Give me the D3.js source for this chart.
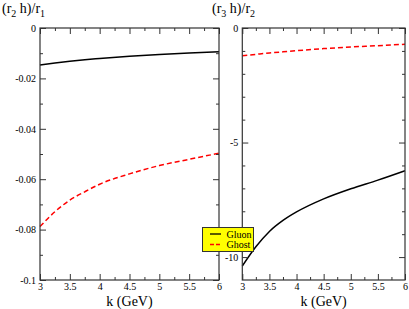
<!DOCTYPE html>
<html>
<head>
<meta charset="utf-8">
<script src="https://cdn.jsdelivr.net/npm/d3@7"></script>
<style>
  body { margin: 0; background: #fff; }
  text { font-family: "Liberation Serif", "Times New Roman", serif; }
</style>
</head>
<body>
<div id="chart-area"></div>
<script>
// momentum values (GeV) and the two ratios for gluon / ghost
var kVals = [3, 3.25, 3.5, 3.75, 4, 4.5, 5, 5.5, 6];
var gluonR2 = [-0.0147, -0.0139, -0.0132, -0.0126, -0.0121, -0.0112, -0.0105, -0.0099, -0.0094];
var ghostR2 = [-0.0788, -0.0729, -0.0683, -0.0650, -0.0620, -0.0579, -0.0546, -0.0521, -0.0497];
var gluonR3 = [-10.39, -9.55, -8.88, -8.40, -8.03, -7.46, -7.02, -6.64, -6.23];
var ghostR3 = [-1.21, -1.15, -1.09, -1.04, -0.99, -0.90, -0.83, -0.77, -0.71];

var xTicks = [3, 3.5, 4, 4.5, 5, 5.5, 6];
var xMinor = [3.25, 3.75, 4.25, 4.75, 5.25, 5.75];
var yTicksR2 = [0, -0.02, -0.04, -0.06, -0.08, -0.1];
var yMinorR2 = [-0.01, -0.03, -0.05, -0.07, -0.09];
var yTicksR3 = [0, -5, -10];
var yMinorR3 = [-1, -2, -3, -4, -6, -7, -8, -9];
var seriesNames = ["Gluon", "Ghost"];

var svg = d3.select("#chart-area")
  .append("svg")
    .attr("width", 409)
    .attr("height", 309);

var plotTop = 28, plotBottom = 280;

function panel(x0, x1, yDomain, yTicks, yMinor, gluon, ghost, sub1, sub2, titleX) {
  var x = d3.scaleLinear().domain([3, 6]).range([x0, x1]);
  var y = d3.scaleLinear().domain(yDomain).range([plotBottom, plotTop]);
  var g = svg.append("g");

  var line = d3.line()
    .x((d, i) => x(kVals[i]))
    .y((d) => y(d))
    .curve(d3.curveMonotoneX);

  g.append("path").datum(gluon)
    .attr("d", line).attr("fill", "none")
    .attr("stroke", "#000").attr("stroke-width", 1.5);
  g.append("path").datum(ghost)
    .attr("d", line).attr("fill", "none")
    .attr("stroke", "#ff0000").attr("stroke-width", 1.5)
    .attr("stroke-dasharray", "5,3");

  var h = plotBottom - plotTop, w = x1 - x0;

  // bottom / top ticks (inward)
  g.append("g").attr("transform", "translate(0," + plotBottom + ")")
    .call(d3.axisBottom(x).tickValues(xTicks).tickSize(-6).tickPadding(3)
      .tickFormat((d) => String(d)))
    .call((s) => s.select(".domain").remove());
  g.append("g").attr("transform", "translate(0," + plotBottom + ")")
    .call(d3.axisBottom(x).tickValues(xMinor).tickSize(-3).tickFormat(""))
    .call((s) => s.select(".domain").remove());
  g.append("g").attr("transform", "translate(0," + plotTop + ")")
    .call(d3.axisTop(x).tickValues(xTicks).tickSize(-6).tickFormat(""))
    .call((s) => s.select(".domain").remove());
  g.append("g").attr("transform", "translate(0," + plotTop + ")")
    .call(d3.axisTop(x).tickValues(xMinor).tickSize(-3).tickFormat(""))
    .call((s) => s.select(".domain").remove());

  // left / right ticks (inward)
  g.append("g").attr("transform", "translate(" + x0 + ",0)")
    .call(d3.axisLeft(y).tickValues(yTicks).tickSize(-6).tickPadding(4)
      .tickFormat((d) => String(d)))
    .call((s) => s.select(".domain").remove());
  g.append("g").attr("transform", "translate(" + x0 + ",0)")
    .call(d3.axisLeft(y).tickValues(yMinor).tickSize(-3).tickFormat(""))
    .call((s) => s.select(".domain").remove());
  g.append("g").attr("transform", "translate(" + x1 + ",0)")
    .call(d3.axisRight(y).tickValues(yTicks).tickSize(-6).tickFormat(""))
    .call((s) => s.select(".domain").remove());
  g.append("g").attr("transform", "translate(" + x1 + ",0)")
    .call(d3.axisRight(y).tickValues(yMinor).tickSize(-3).tickFormat(""))
    .call((s) => s.select(".domain").remove());

  g.selectAll(".tick line").attr("stroke", "#333");
  g.selectAll(".tick text")
    .attr("font-size", "10px")
    .attr("fill", "#000");

  g.append("rect")
    .attr("x", x0).attr("y", plotTop)
    .attr("width", w).attr("height", h)
    .attr("fill", "none").attr("stroke", "#333").attr("stroke-width", 1.2);

  g.append("text")
    .attr("x", (x0 + x1) / 2)
    .attr("y", 305.5)
    .attr("font-size", "14px")
    .attr("text-anchor", "middle")
    .text("k (GeV)");

  var t = g.append("text")
    .attr("x", titleX)
    .attr("y", 13)
    .attr("font-size", "14px");
  t.append("tspan").text("(r");
  t.append("tspan").attr("font-size", "10px").attr("dy", 4).text(sub1);
  t.append("tspan").attr("dy", -4).text(" h)/r");
  t.append("tspan").attr("font-size", "10px").attr("dy", 4).text(sub2);
}

panel(40, 219, [-0.1, 0], yTicksR2, yMinorR2, gluonR2, ghostR2, "2", "1", 2);
panel(242.3, 405, [-11, 0], yTicksR3, yMinorR3, gluonR3, ghostR3, "3", "2", 212);

// legend
var leg = svg.append("g");
leg.append("rect")
  .attr("x", 202.5).attr("y", 227.5)
  .attr("width", 51).attr("height", 24)
  .attr("fill", "#ffff00").attr("stroke", "#333").attr("stroke-width", 1);
var legY = [234, 244.5];
var legStyle = [{c: "#000", d: null}, {c: "#ff0000", d: "4,2"}];
seriesNames.forEach((name, i) => {
  leg.append("line")
    .attr("x1", 210).attr("x2", 221)
    .attr("y1", legY[i]).attr("y2", legY[i])
    .attr("stroke", legStyle[i].c).attr("stroke-width", 1.3)
    .attr("stroke-dasharray", legStyle[i].d);
  leg.append("text")
    .attr("x", 226.5)
    .attr("y", legY[i] + 3.5)
    .attr("font-size", "10px")
    .text(name);
});
</script>
</body>
</html>
